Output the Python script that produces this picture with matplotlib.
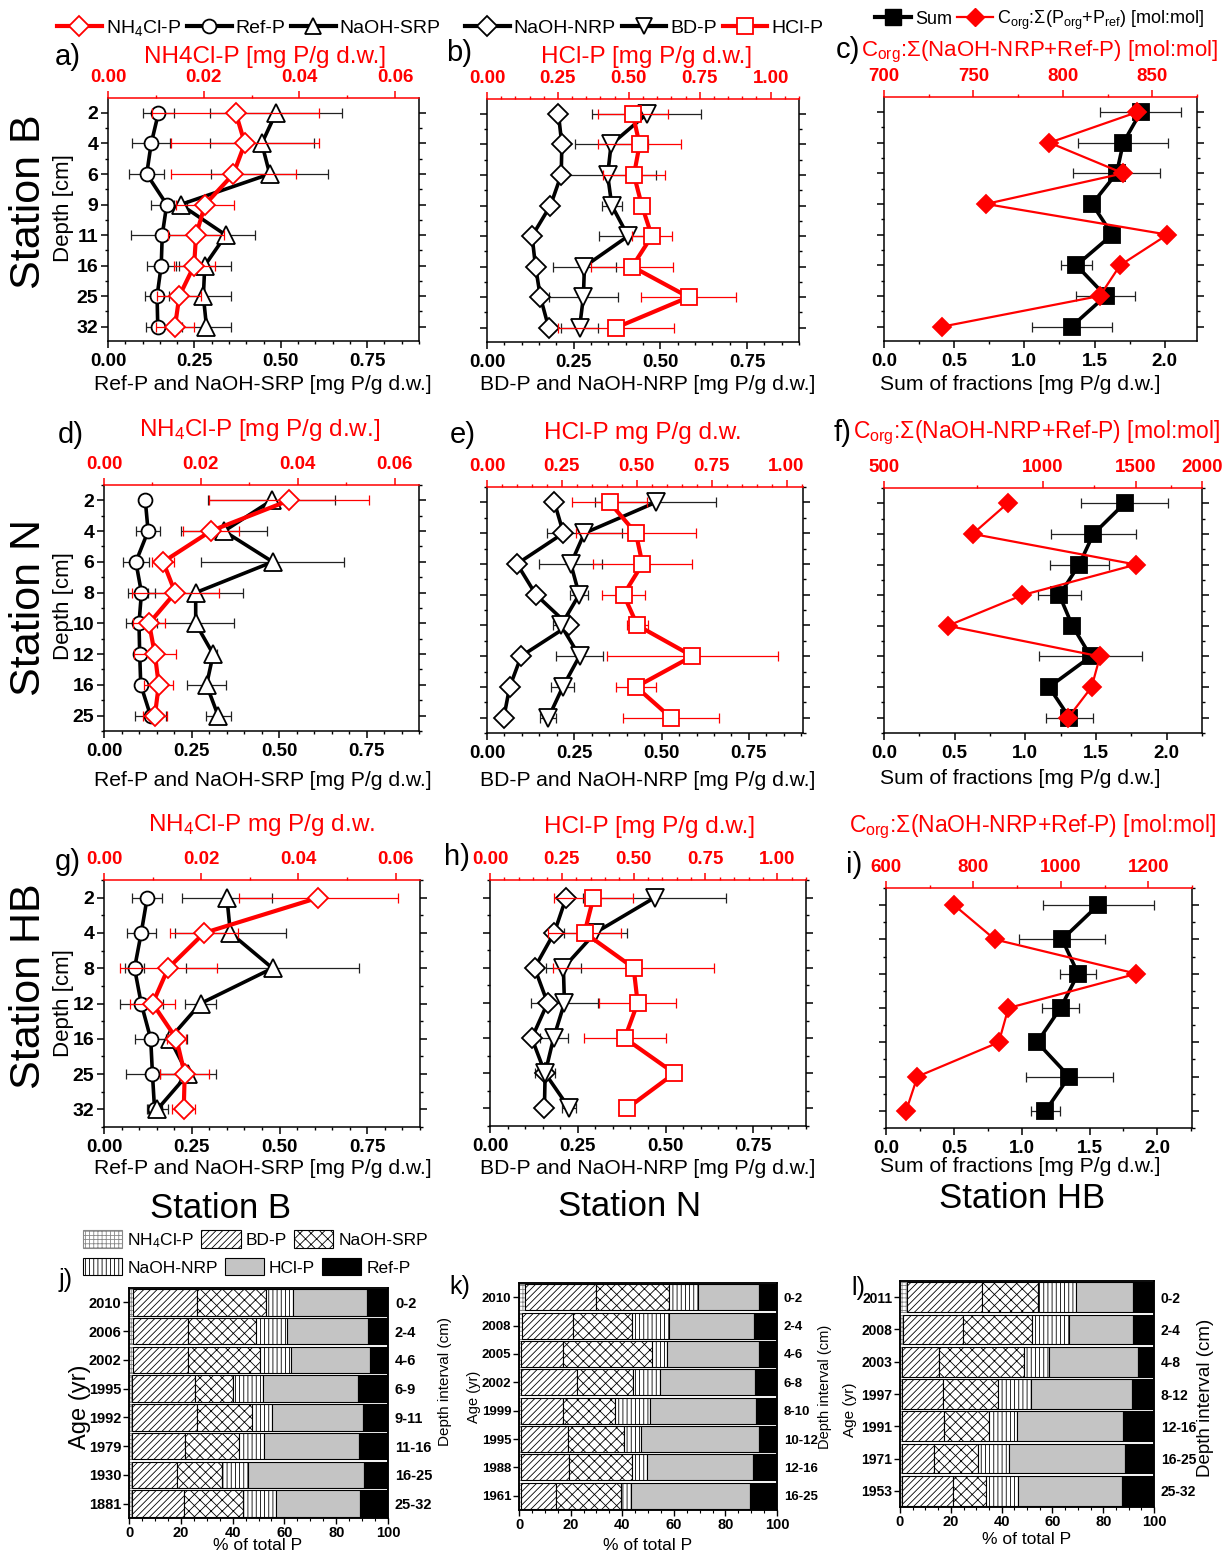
import numpy as np
import matplotlib
matplotlib.use('Agg')
import matplotlib.pyplot as plt
from matplotlib.ticker import MultipleLocator, FormatStrFormatter, FixedLocator, NullFormatter
from matplotlib.lines import Line2D
from matplotlib.patches import Patch

plt.rcParams['font.family'] = ['Liberation Sans', 'DejaVu Sans']
plt.rcParams['mathtext.fontset'] = 'custom'
plt.rcParams['mathtext.rm'] = 'Liberation Sans'
plt.rcParams['mathtext.it'] = 'Liberation Sans:italic'
plt.rcParams['mathtext.bf'] = 'Liberation Sans:bold'
plt.rcParams['hatch.linewidth'] = 0.6
plt.rcParams['axes.linewidth'] = 1.1

# ---------------- data: station B ----------------
depth_B = ['2', '4', '6', '9', '11', '16', '25', '32']
B_ref = [0.146, 0.125, 0.112, 0.170, 0.157, 0.154, 0.142, 0.144]
B_ref_err = [0.045, 0.055, 0.050, 0.045, 0.090, 0.042, 0.035, 0.035]
B_srp = [0.486, 0.445, 0.468, 0.210, 0.341, 0.280, 0.276, 0.285]
B_srp_err = [0.19, 0.15, 0.17, 0.02, 0.085, 0.075, 0.08, 0.07]
B_nh4 = [0.0267, 0.0286, 0.0262, 0.0203, 0.0184, 0.0180, 0.0149, 0.0140]
B_nh4_err = [0.0174, 0.0155, 0.0131, 0.0060, 0.0058, 0.0043, 0.0046, 0.0040]
B_nrp = [0.206, 0.216, 0.214, 0.183, 0.130, 0.140, 0.154, 0.178]
B_bd = [0.461, 0.358, 0.348, 0.360, 0.407, 0.281, 0.278, 0.267]
B_bd_err = [0.157, 0.105, 0.14, 0.028, 0.085, 0.09, 0.10, 0.054]
B_hcl = [0.514, 0.538, 0.518, 0.546, 0.581, 0.512, 0.711, 0.455]
B_hcl_err = [0.123, 0.145, 0.11, 0.01, 0.07, 0.145, 0.168, 0.205]
B_sum = [1.829, 1.705, 1.657, 1.483, 1.626, 1.371, 1.579, 1.336]
B_sum_err = [0.29, 0.32, 0.31, 0.05, 0.03, 0.11, 0.21, 0.285]
B_corg = [841.7, 792.5, 833.8, 757.0, 858.5, 832.0, 820.7, 732.7]

# ---------------- data: station N ----------------
depth_N = ['2', '4', '6', '8', '10', '12', '16', '25']
N_ref = [0.118, 0.126, 0.091, 0.107, 0.100, 0.102, 0.105, 0.133]
N_ref_err = [0.01, 0.035, 0.037, 0.038, 0.038, 0.01, 0.01, 0.045]
N_srp = [0.479, 0.343, 0.482, 0.262, 0.262, 0.312, 0.293, 0.326]
N_srp_err = [0.182, 0.124, 0.205, 0.135, 0.11, 0.01, 0.055, 0.036]
N_nh4 = [0.0382, 0.0220, 0.0122, 0.0147, 0.0093, 0.0105, 0.0113, 0.0105]
N_nh4_err = [0.0165, 0.0058, 0.0023, 0.0090, 0.0033, 0.0043, 0.0030, 0.0025]
N_nrp = [0.193, 0.219, 0.086, 0.140, 0.234, 0.098, 0.065, 0.048]
N_bd = [0.483, 0.279, 0.240, 0.264, 0.212, 0.265, 0.217, 0.176]
N_bd_err = [0.174, 0.108, 0.090, 0.025, 0.023, 0.067, 0.033, 0.023]
N_hcl = [0.409, 0.497, 0.519, 0.456, 0.502, 0.686, 0.498, 0.614]
N_hcl_err = [0.126, 0.200, 0.165, 0.071, 0.036, 0.286, 0.066, 0.161]
N_sum = [1.702, 1.482, 1.381, 1.241, 1.333, 1.463, 1.168, 1.312]
N_sum_err = [0.307, 0.300, 0.210, 0.150, 0.02, 0.364, 0.0, 0.165]
N_corg = [857, 736, 1500, 913, 660, 1282, 1236, 1116]

# ---------------- data: station HB ----------------
depth_HB = ['2', '4', '8', '12', '16', '25', '32']
HB_ref = [0.123, 0.106, 0.087, 0.106, 0.133, 0.138, 0.144]
HB_ref_err = [0.043, 0.041, 0.027, 0.061, 0.045, 0.075, 0.02]
HB_srp = [0.350, 0.360, 0.480, 0.275, 0.187, 0.239, 0.152]
HB_srp_err = [0.128, 0.158, 0.247, 0.045, 0.05, 0.08, 0.03]
HB_nh4 = [0.0441, 0.0206, 0.0132, 0.0100, 0.0149, 0.0166, 0.0164]
HB_nh4_err = [0.0163, 0.0070, 0.0100, 0.0046, 0.0020, 0.0050, 0.0024]
HB_nrp = [0.217, 0.183, 0.127, 0.164, 0.119, 0.157, 0.155]
HB_bd = [0.469, 0.300, 0.209, 0.212, 0.181, 0.157, 0.226]
HB_bd_err = [0.203, 0.090, 0.050, 0.096, 0.040, 0.028, 0.02]
HB_hcl = [0.360, 0.329, 0.500, 0.514, 0.469, 0.642, 0.477]
HB_hcl_err = [0.137, 0.128, 0.279, 0.133, 0.143, 0.0, 0.0]
HB_sum = [1.563, 1.298, 1.416, 1.286, 1.114, 1.350, 1.175]
HB_sum_err = [0.409, 0.315, 0.131, 0.135, 0.04, 0.320, 0.108]
HB_corg = [756, 849, 1173, 880, 858, 672, 646]

# ---------------- data: fractions in % of total P ----------------
frac_names = ['NH$_4$Cl-P', 'BD-P', 'NaOH-SRP', 'NaOH-NRP', 'HCl-P', 'Ref-P']

j_age = ['2010', '2006', '2002', '1995', '1992', '1979', '1930', '1881']
j_int = ['0-2', '2-4', '4-6', '6-9', '9-11', '11-16', '16-25', '25-32']
j_nh4 = [1.4, 1.4, 1.4, 1.3, 1.2, 1.3, 1.0, 1.2]
j_bd = [25.0, 21.5, 21.5, 24.3, 25.0, 20.3, 17.7, 20.1]
j_srp = [26.4, 26.1, 27.5, 14.4, 21.2, 20.7, 17.1, 22.9]
j_nrp = [10.7, 12.0, 12.1, 11.9, 7.8, 9.9, 10.3, 12.5]
j_hcl = [28.4, 31.1, 30.4, 36.5, 35.0, 36.5, 44.5, 32.3]
j_ref = [8.1, 7.9, 7.1, 11.6, 9.8, 11.3, 9.4, 11.0]

k_age = ['2010', '2008', '2005', '2002', '1999', '1995', '1988', '1961']
k_int = ['0-2', '2-4', '4-6', '6-8', '8-10', '10-12', '12-16', '16-25']
k_nh4 = [2.2, 1.3, 0.9, 0.9, 0.9, 0.9, 0.9, 0.9]
k_bd = [27.8, 19.7, 16.2, 21.6, 16.2, 18.1, 18.5, 13.6]
k_srp = [28.3, 22.7, 34.3, 21.8, 20.1, 21.8, 24.3, 25.0]
k_nrp = [10.9, 14.5, 6.1, 10.4, 13.6, 6.5, 5.8, 3.9]
k_hcl = [23.7, 32.7, 35.6, 36.6, 41.0, 45.6, 41.2, 46.0]
k_ref = [7.1, 9.1, 6.9, 8.7, 8.2, 7.1, 9.3, 10.6]

l_age = ['2011', '2008', '2003', '1997', '1991', '1971', '1953']
l_int = ['0-2', '2-4', '4-8', '8-12', '12-16', '16-25', '25-32']
l_nh4 = [2.6, 1.3, 0.8, 0.7, 0.7, 0.7, 0.7]
l_bd = [29.6, 23.6, 14.7, 16.4, 16.8, 12.8, 20.3]
l_srp = [22.3, 26.9, 33.4, 21.6, 17.7, 17.3, 12.9]
l_nrp = [14.7, 14.9, 9.8, 12.9, 10.7, 12.2, 12.7]
l_hcl = [22.7, 24.9, 35.1, 39.6, 42.0, 45.6, 40.9]
l_ref = [8.1, 8.4, 6.2, 8.8, 12.1, 11.4, 12.5]

W, H = 1226, 1555
fig = plt.figure(figsize=(W / 100, H / 100), dpi=100)


def box(l, t, r, b):
    return [l / W, 1 - b / H, (r - l) / W, (b - t) / H]


def ftext(x, y, s, **kw):
    fig.text(x / W, 1 - y / H, s, ha='center', va='center', **kw)


def bold_ticks(ax):
    for lab in ax.get_xticklabels() + ax.get_yticklabels():
        lab.set_fontweight('bold')


def profile_axes(rect, xlim, xmaj, xmin_, xfmt, tlim, tmaj, tmin, tfmt, depths, ylim, show_y, tlog=False):
    ax = fig.add_axes(box(*rect))
    ax.set_xlim(*xlim)
    ax.set_ylim(*ylim)
    ypos = np.arange(1, len(depths) + 1)
    ax.set_yticks(ypos)
    ax.set_yticklabels(depths if show_y else [])
    ax.yaxis.set_minor_locator(MultipleLocator(0.5))
    ax.xaxis.set_major_locator(MultipleLocator(xmaj))
    ax.xaxis.set_minor_locator(MultipleLocator(xmin_))
    ax.xaxis.set_major_formatter(FormatStrFormatter(xfmt))
    ax.tick_params(axis='both', which='both', direction='out')
    ax.tick_params(axis='y', which='both', left=True, right=True)
    ax.tick_params(which='major', length=5, width=1.1)
    ax.tick_params(which='minor', length=2.5, width=1.0)
    ax.tick_params(axis='x', labelsize=13.5)
    ax.tick_params(axis='y', labelsize=14, pad=2)
    ax.spines['top'].set_visible(False)
    bold_ticks(ax)

    ax2 = ax.twiny()
    if tlog:
        ax2.set_xscale('log')
        ax2.set_xlim(*tlim)
        ax2.xaxis.set_major_locator(FixedLocator(tmaj))
        ax2.xaxis.set_minor_locator(FixedLocator(tmin))
        ax2.xaxis.set_minor_formatter(NullFormatter())
    else:
        ax2.set_xlim(*tlim)
        ax2.xaxis.set_major_locator(MultipleLocator(tmaj))
        ax2.xaxis.set_minor_locator(MultipleLocator(tmin))
    ax2.xaxis.set_major_formatter(FormatStrFormatter(tfmt))
    for s in ['left', 'right', 'bottom']:
        ax2.spines[s].set_visible(False)
    ax2.spines['top'].set_color('red')
    ax2.tick_params(axis='x', which='both', colors='red', direction='out')
    ax2.tick_params(axis='x', which='major', length=5, width=1.1, labelsize=13.5)
    ax2.tick_params(axis='x', which='minor', length=2.5, width=1.0)
    bold_ticks(ax2)
    return ax, ax2, ypos


def series(ax, x, err, ypos, color, marker, ms, filled=False, lw=2.6):
    ecol = '#222222' if color == 'k' else color
    if err is not None:
        ax.errorbar(x, ypos, xerr=err, fmt='none', ecolor=ecol, elinewidth=0.9,
                    capsize=3.5, capthick=0.9, zorder=1)
    ax.plot(x, ypos, '-', color=color, lw=lw, zorder=2)
    ax.plot(x, ypos, ls='none', marker=marker, ms=ms,
            mfc=color if filled else 'white', mec=color, mew=1.3, zorder=3)


def left_panel(rect, depths, ylim, ref, ref_e, srp, srp_e, nh4, nh4_e):
    ax, ax2, ypos = profile_axes(rect, (0, 0.9), 0.25, 0.05, '%.2f', (0, 0.065), 0.02, 0.01, '%.2f',
                                 depths, ylim, True)
    series(ax, ref, ref_e, ypos, 'k', 'o', 10)
    series(ax, srp, srp_e, ypos, 'k', '^', 13)
    series(ax2, nh4, nh4_e, ypos, 'red', 'D', 10, lw=3)


def mid_panel(rect, depths, ylim, xr, tr, nrp, bd, bd_e, hcl, hcl_e):
    ax, ax2, ypos = profile_axes(rect, (0, xr), 0.25, 0.05, '%.2f', (0, tr), 0.25, 0.05, '%.2f',
                                 depths, ylim, False)
    series(ax, nrp, None, ypos, 'k', 'D', 10.5)
    series(ax, bd, bd_e, ypos, 'k', 'v', 13)
    series(ax2, hcl, hcl_e, ypos, 'red', 's', 11, lw=3)


def right_panel(rect, depths, ylim, xr, tlim, tmaj, tmin, tlog, sm, sm_e, corg):
    ax, ax2, ypos = profile_axes(rect, (0, xr), 0.5, 0.25, '%.1f', tlim, tmaj, tmin, '%d',
                                 depths, ylim, False, tlog=tlog)
    series(ax, sm, sm_e, ypos, 'k', 's', 12, filled=True)
    series(ax2, corg, None, ypos, 'red', 'D', 9, filled=True, lw=1.6)


# ---------------- profile panels ----------------
left_panel((108, 98, 419, 341), depth_B, (8.47, 0.51), B_ref, B_ref_err, B_srp, B_srp_err, B_nh4, B_nh4_err)
mid_panel((487, 99, 799, 342), depth_B, (8.47, 0.51), 0.9, 1.1, B_nrp, B_bd, B_bd_err, B_hcl, B_hcl_err)
right_panel((884, 97, 1197, 341), depth_B, (8.47, 0.51), 2.23, (700, 875), 50, 25, False,
            B_sum, B_sum_err, B_corg)

left_panel((104, 485, 419, 731), depth_N, (8.5, 0.5), N_ref, N_ref_err, N_srp, N_srp_err, N_nh4, N_nh4_err)
mid_panel((487, 487, 803, 733), depth_N, (8.5, 0.5), 0.905, 1.055, N_nrp, N_bd, N_bd_err, N_hcl, N_hcl_err)
right_panel((884, 488, 1202, 733), depth_N, (8.5, 0.5), 2.25, (500, 2000), [500, 1000, 1500, 2000],
            [750, 1250, 1750], True, N_sum, N_sum_err, N_corg)

left_panel((104, 880, 420, 1127), depth_HB, (7.5, 0.5), HB_ref, HB_ref_err, HB_srp, HB_srp_err, HB_nh4, HB_nh4_err)
mid_panel((490, 880, 806, 1126), depth_HB, (7.5, 0.5), 0.9, 1.1, HB_nrp, HB_bd, HB_bd_err, HB_hcl, HB_hcl_err)
right_panel((886, 888, 1192, 1128), depth_HB, (7.5, 0.5), 2.255, (600, 1300), 200, 100, False,
            HB_sum, HB_sum_err, HB_corg)

# ---------------- profile texts ----------------
red = 'red'
corg_lab = r'C$_{\mathrm{org}}$:Σ(NaOH-NRP+Ref-P) [mol:mol]'
ftext(265, 57, 'NH4Cl-P [mg P/g d.w.]', color=red, fontsize=17.5)
ftext(647, 57, 'HCl-P [mg P/g d.w.]', color=red, fontsize=17.5)
ftext(1040, 52, corg_lab, color=red, fontsize=16)
ftext(260, 430, 'NH$_4$Cl-P [mg P/g d.w.]', color=red, fontsize=17.5)
ftext(643, 433, 'HCl-P mg P/g d.w.', color=red, fontsize=17.5)
ftext(1037, 433, corg_lab, color=red, fontsize=16.5)
ftext(262, 825, 'NH$_4$Cl-P mg P/g d.w.', color=red, fontsize=17.5)
ftext(650, 827, 'HCl-P [mg P/g d.w.]', color=red, fontsize=17.5)
ftext(1033, 827, corg_lab, color=red, fontsize=16.5)

for yy in (385, 780, 1168):
    ftext(263, yy, 'Ref-P and NaOH-SRP [mg P/g d.w.]', fontsize=15.2)
    ftext(648, yy, 'BD-P and NaOH-NRP [mg P/g d.w.]', fontsize=15.2)
    ftext(1020, yy - 1, 'Sum of fractions [mg P/g d.w.]', fontsize=15.2)

for lab, x, y in [('a)', 68, 57), ('b)', 459, 53), ('c)', 848, 50), ('d)', 71, 435), ('e)', 463, 435),
                  ('f)', 843, 433), ('g)', 68, 862), ('h)', 457, 857), ('i)', 854, 865)]:
    ftext(x, y, lab, fontsize=21)

for st, yc, dc in [('Station B', 202, 208), ('Station N', 608, 606), ('Station HB', 986, 1003)]:
    ftext(29, yc, st, fontsize=31, rotation=90)
    ftext(64, dc, 'Depth [cm]', fontsize=16, rotation=90)

# ---------------- top legends ----------------
lg = dict(frameon=False, fontsize=14, handlelength=2.3, handletextpad=0.2, columnspacing=0.3,
          borderaxespad=0, borderpad=0, loc='center left')
h1 = [Line2D([], [], color='red', lw=3, marker='D', ms=10, mfc='white', mec='red', mew=1.3),
      Line2D([], [], color='k', lw=3, marker='o', ms=10, mfc='white', mec='k', mew=1.3),
      Line2D([], [], color='k', lw=3, marker='^', ms=12, mfc='white', mec='k', mew=1.3)]
fig.legend(h1, ['NH$_4$Cl-P', 'Ref-P', 'NaOH-SRP'], ncol=3, bbox_to_anchor=(57 / W, 1 - 28 / H), **lg)
h2 = [Line2D([], [], color='k', lw=3, marker='D', ms=10, mfc='white', mec='k', mew=1.3),
      Line2D([], [], color='k', lw=3, marker='v', ms=12, mfc='white', mec='k', mew=1.3),
      Line2D([], [], color='red', lw=3, marker='s', ms=11, mfc='white', mec='red', mew=1.3)]
fig.legend(h2, ['NaOH-NRP', 'BD-P', 'HCl-P'], ncol=3, bbox_to_anchor=(465 / W, 1 - 28 / H), **lg)
h3 = [Line2D([], [], color='k', lw=3, marker='s', ms=11, mfc='k', mec='k'),
      Line2D([], [], color='red', lw=1.6, marker='D', ms=9, mfc='red', mec='red')]
lg3 = dict(lg)
lg3.update(fontsize=13, handlelength=2.0)
fig.legend(h3, ['Sum', r'C$_{\mathrm{org}}$:Σ(P$_{\mathrm{org}}$+P$_{\mathrm{ref}}$) [mol:mol]'], ncol=2,
           bbox_to_anchor=(875 / W, 1 - 20 / H), **lg3)

# ---------------- bar panels ----------------
bar_fc = ['white', 'white', 'white', 'white', '#c4c4c4', 'black']
bar_hatch = ['++++', '/////', 'xxx', '||||', None, None]
bar_ec = ['#888888', 'k', 'k', 'k', 'k', 'k']


def bar_panel(rect, ages, ints, comps, ticksize, agelab, agesize, intlab, intsize):
    ax = fig.add_axes(box(*rect))
    ypos = np.arange(len(ages))
    left = np.zeros(len(ages))
    for vals, fc, hh, ec in zip(comps, bar_fc, bar_hatch, bar_ec):
        ax.barh(ypos, vals, left=left, height=0.92, color=fc, edgecolor=ec, hatch=hh, lw=0.8)
        left = left + np.array(vals)
    ax.set_xlim(0, 100)
    ax.set_ylim(len(ages) - 0.5, -0.5)
    ax.set_yticks(ypos)
    ax.set_yticklabels(ages)
    ax.xaxis.set_major_locator(MultipleLocator(20))
    ax.xaxis.set_minor_locator(MultipleLocator(5))
    ax.tick_params(which='both', direction='out', labelsize=10.5)
    ax.tick_params(axis='y', labelsize=ticksize)
    ax.tick_params(which='major', length=4, width=1.0, pad=1.5)
    ax.tick_params(which='minor', length=2, width=0.8)
    bold_ticks(ax)
    axr = ax.twinx()
    axr.set_ylim(ax.get_ylim())
    axr.set_yticks(ypos)
    axr.set_yticklabels(ints)
    axr.tick_params(direction='out', length=0, labelsize=ticksize, pad=5)
    bold_ticks(axr)
    ftext(agelab[0], agelab[1], 'Age (yr)', fontsize=agesize, rotation=90)
    ftext(intlab[0], intlab[1], 'Depth interval (cm)', fontsize=intsize, rotation=90)


bar_panel((129, 1288, 388, 1518), j_age, j_int, [j_nh4, j_bd, j_srp, j_nrp, j_hcl, j_ref], 10.5,
          (80, 1407), 17, (445, 1382), 11)
bar_panel((519, 1283, 777, 1510), k_age, k_int, [k_nh4, k_bd, k_srp, k_nrp, k_hcl, k_ref], 9.5,
          (474, 1397), 10.5, (825, 1387), 10.5)
bar_panel((900, 1281, 1154, 1507), l_age, l_int, [l_nh4, l_bd, l_srp, l_nrp, l_hcl, l_ref], 10,
          (850, 1410), 11, (1206, 1398), 13.5)

ftext(258, 1546, '% of total P', fontsize=12.5)
ftext(648, 1545, '% of total P', fontsize=12.5)
ftext(1027, 1540, '% of total P', fontsize=12.5)
ftext(66, 1280, 'j)', fontsize=18)
ftext(460, 1287, 'k)', fontsize=18)
ftext(858, 1288, 'l)', fontsize=18)
ftext(220, 1208, 'Station B', fontsize=25)
ftext(630, 1207, 'Station N', fontsize=25)
ftext(1022, 1198, 'Station HB', fontsize=25)

patches = [Patch(facecolor=fc, edgecolor=ec, hatch=hh, lw=0.8) for fc, hh, ec in zip(bar_fc, bar_hatch, bar_ec)]
bl = dict(frameon=False, fontsize=12.5, handlelength=2.25, handleheight=1.15, handletextpad=0.3,
          columnspacing=0.4, borderaxespad=0, borderpad=0, loc='center left', ncol=3)
fig.legend(patches[:3], frac_names[:3], bbox_to_anchor=(83 / W, 1 - 1240 / H), **bl)
fig.legend(patches[3:], frac_names[3:], bbox_to_anchor=(83 / W, 1 - 1267 / H), **bl)

fig.savefig('out.png', dpi=100)
